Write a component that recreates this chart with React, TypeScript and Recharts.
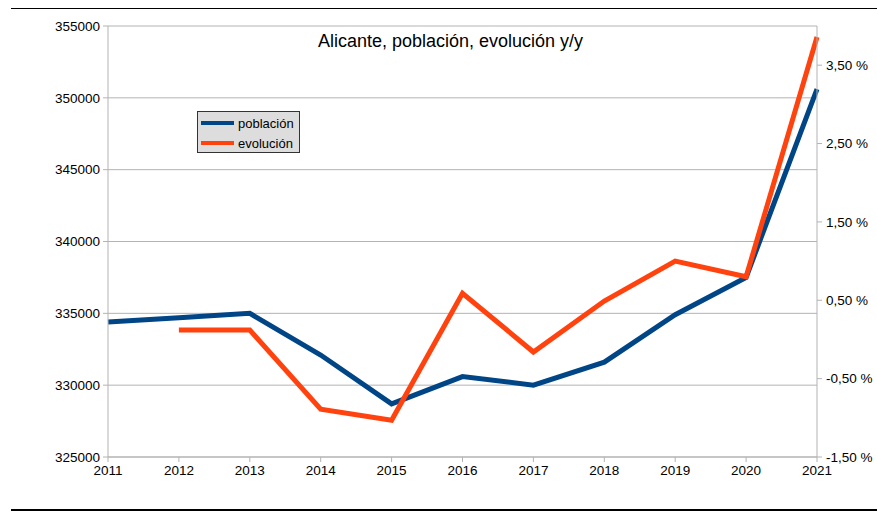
import { CartesianGrid, Line, LineChart, XAxis, YAxis } from "recharts"

const years = ["2011", "2012", "2013", "2014", "2015", "2016", "2017", "2018", "2019", "2020", "2021"]
const poblacion = [334400, 334700, 335000, 332100, 328700, 330600, 330000, 331600, 334900, 337500, 350600]
const evolucion = [null, 0.12, 0.12, -0.89, -1.03, 0.59, -0.16, 0.49, 1.0, 0.8, 3.86]
const leftTicks = [325000, 330000, 335000, 340000, 345000, 350000, 355000]
const rightTicks = [-1.5, -0.5, 0.5, 1.5, 2.5, 3.5]

const data = years.map((year, i) => ({ year, poblacion: poblacion[i], evolucion: evolucion[i] }))

const font = "'Liberation Sans', Arial, sans-serif"
const tickStyle = { fontSize: 13.5, fill: "#000", fontFamily: font }
const axisGray = "#b3b3b3"

const legendItems = [
  { name: "población", color: "#004586" },
  { name: "evolución", color: "#ff420e" },
]

function LegendBox() {
  return (
    <div
      style={{
        position: "absolute",
        left: 197,
        top: 111,
        width: 103,
        height: 42,
        boxSizing: "border-box",
        background: "#dddddd",
        border: "1px solid #333",
        padding: "1px 3px",
        fontFamily: font,
        fontSize: 13,
        color: "#000",
        zIndex: 2,
      }}
    >
      {legendItems.map((it) => (
        <div key={it.name} style={{ display: "flex", alignItems: "center", height: 20 }}>
          <span style={{ display: "inline-block", width: 33, height: 4, background: it.color, marginRight: 4 }} />
          {it.name}
        </div>
      ))}
    </div>
  )
}

export default function App() {
  return (
    <div style={{ position: "absolute", left: 0, top: 0, width: 877, height: 512, background: "#fff" }}>
      <div style={{ position: "absolute", left: 11, top: 8, width: 866, height: 1, background: "#000" }} />
      <div style={{ position: "absolute", left: 11, top: 509, width: 866, height: 2, background: "#000" }} />
      <div
        style={{
          position: "absolute",
          left: 0,
          width: 901,
          top: 31,
          textAlign: "center",
          fontFamily: font,
          fontSize: 18,
          color: "#000",
          zIndex: 2,
        }}
      >
        Alicante, población, evolución y/y
      </div>
      <LegendBox />
      <LineChart width={877} height={512} data={data} margin={{ top: 26, right: 0, bottom: 25, left: 0 }}>
        <CartesianGrid yAxisId="left" vertical={false} stroke={axisGray} strokeWidth={1} />
        <XAxis
          dataKey="year"
          tick={tickStyle}
          stroke={axisGray}
          tickSize={5}
          tickMargin={3}
          height={30}
          interval={0}
        />
        <YAxis
          yAxisId="left"
          domain={[325000, 355000]}
          ticks={leftTicks}
          tick={tickStyle}
          stroke={axisGray}
          tickSize={5}
          tickMargin={3}
          width={108}
          interval={0}
        />
        <YAxis
          yAxisId="right"
          orientation="right"
          domain={[-1.5, 4.0]}
          ticks={rightTicks}
          tick={tickStyle}
          stroke={axisGray}
          tickSize={5}
          tickMargin={4}
          width={60}
          interval={0}
          tickFormatter={(v: number) => `${v.toFixed(2).replace(".", ",")} %`}
        />
        <Line
          yAxisId="left"
          dataKey="poblacion"
          name="población"
          stroke="#004586"
          strokeWidth={5}
          strokeLinejoin="miter"
          strokeLinecap="butt"
          dot={false}
          isAnimationActive={false}
        />
        <Line
          yAxisId="right"
          dataKey="evolucion"
          name="evolución"
          stroke="#ff420e"
          strokeWidth={5}
          strokeLinejoin="miter"
          strokeLinecap="butt"
          dot={false}
          isAnimationActive={false}
        />
      </LineChart>
    </div>
  )
}
